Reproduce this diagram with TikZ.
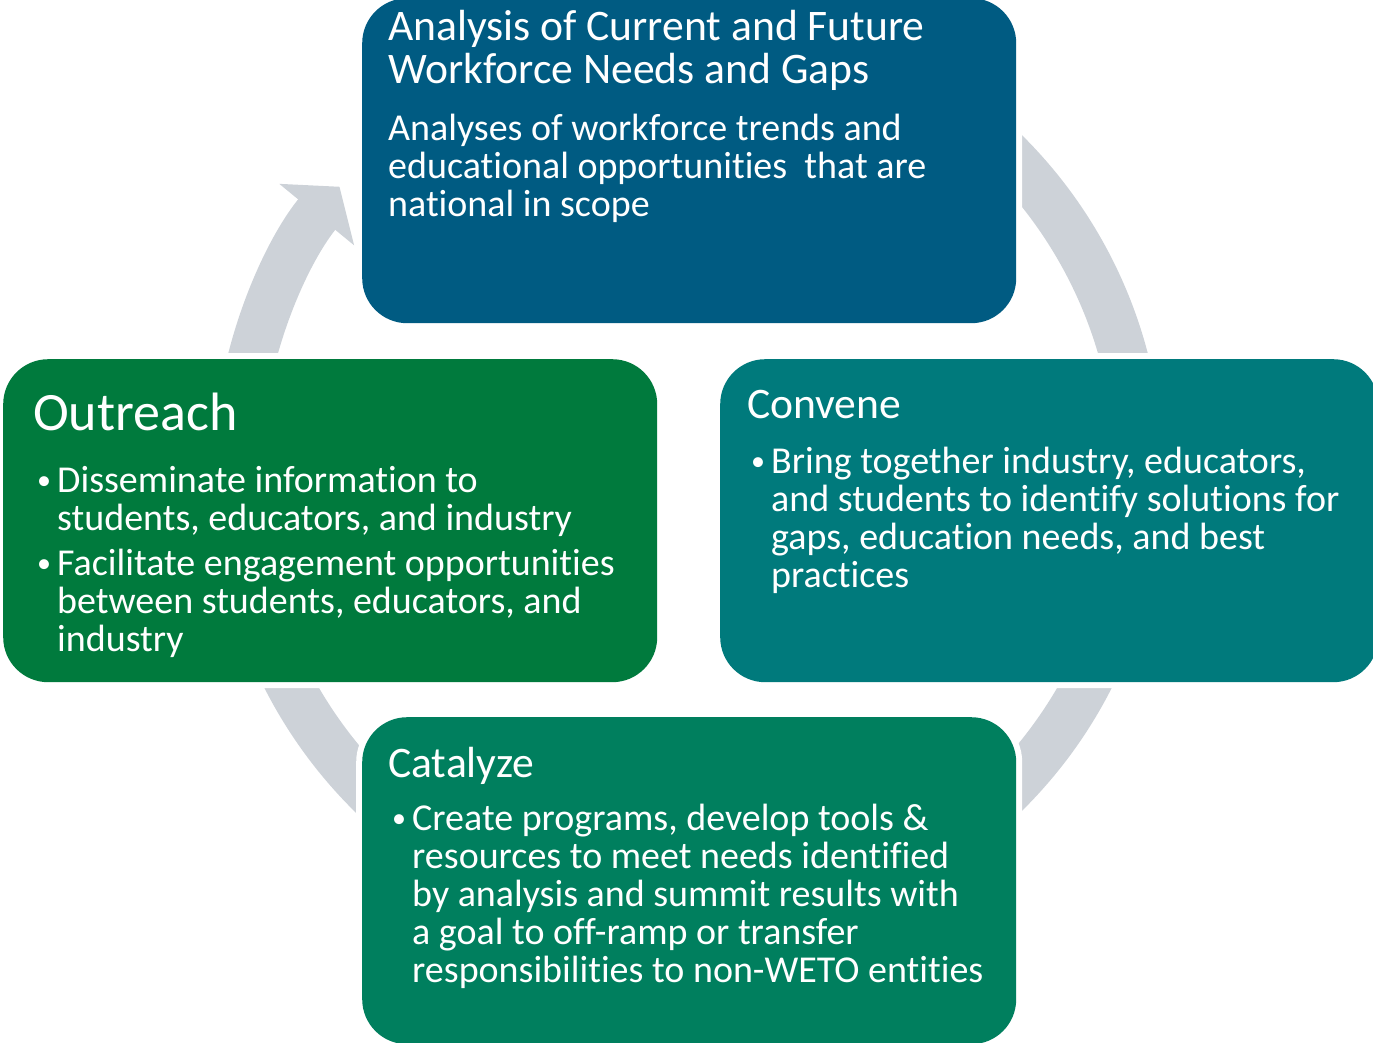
\documentclass[tikz,border=0pt]{standalone}
\usepackage{fontspec}
\setmainfont[Ligatures=NoCommon]{Carlito}
\usetikzlibrary{arrows.meta}

\definecolor{anblue}{RGB}{0,91,130}
\definecolor{outgreen}{RGB}{0,122,61}
\definecolor{convteal}{RGB}{0,122,124}
\definecolor{catgreen}{RGB}{0,127,94}
\definecolor{ringgray}{RGB}{205,210,216}

\newcommand{\bul}{\makebox[20pt][l]{\raisebox{3pt}{\fontsize{28}{28}\selectfont •}}}
\newcommand{\ind}{\hspace*{20pt}}

\tikzset{
  box/.style={rounded corners=45pt, preaction={draw=white, line width=12pt},
    inner sep=0pt, anchor=north west, minimum width=654pt, minimum height=323pt},
  ring/.style={ringgray, line width=48pt, -{Triangle[length=36pt, width=95pt]}},
  txt/.style={text=white, anchor=base west, inner sep=0pt, align=left},
  head/.style={txt, font=\fontsize{43.6}{43}\selectfont},
  body/.style={txt, font=\fontsize{38}{38}\selectfont},
}

\begin{document}
\begin{tikzpicture}[x=1pt, y=-1pt]
    \useasboundingbox (0,0) rectangle (1373,1042);
    % circular arrow behind the boxes
    \coordinate (ctr) at (688,473);
    \draw[ring] (ctr) ++(-80:451) arc[start angle=-80, end angle=219.4, radius=451];

    % the four boxes
    \node[box, fill=anblue, minimum height=325pt] (analysis) at (362,-2) {};
    \node[box, fill=outgreen] (outreach) at (3,359) {};
    \node[box, fill=convteal, minimum width=658pt] (convene) at (720,359) {};
    \node[box, fill=catgreen, minimum height=327pt] (catalyze) at (362,717) {};

    % analysis (base = last line)
    \node[head] (antitle) at (388,83) {Analysis of Current and Future\\Workforce Needs and Gaps};
    \node[body] (antext) at (388,216) {Analyses of workforce trends and\\educational opportunities\ \ that are\\national in scope};

    % outreach
    \node[txt, font=\fontsize{54}{54}\selectfont] (outtitle) at (33,430) {Outreach};
    \node[body] (outa) at (37,530) {\bul Disseminate information to\\\ind students, educators, and industry};
    \node[body] (outb) at (37,651) {\bul Facilitate engagement opportunities\\\ind between students, educators, and\\\ind industry};

    % convene
    \node[head] (convtitle) at (747,418) {Convene};
    \node[body] (conva) at (751,587) {\bul Bring together industry, educators,\\\ind and students to identify solutions for\\\ind gaps, education needs, and best\\\ind practices};

    % catalyze
    \node[head] (cattitle) at (388,777) {Catalyze};
    \node[body] (cata) at (392,982) {\bul Create programs, develop tools \&\\\ind resources to meet needs identified\\\ind by analysis and summit results with\\\ind a goal to off-ramp or transfer\\\ind responsibilities to non-WETO entities};
\end{tikzpicture}
\end{document}
